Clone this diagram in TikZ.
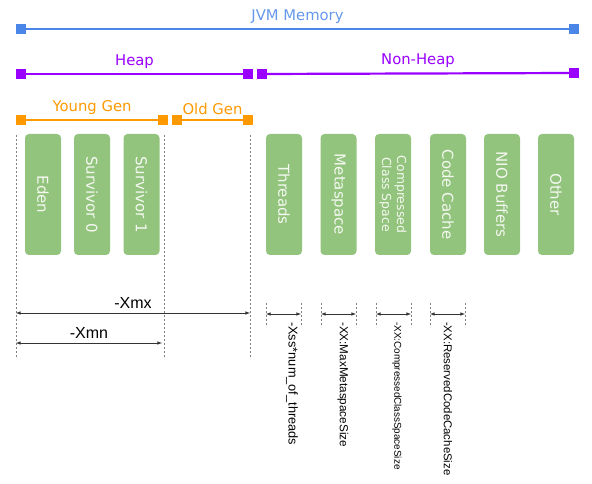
\documentclass[tikz,border=0pt]{standalone}
\usepackage{fontspec}
\setmainfont{DejaVu Sans}
\newfontfamily\optfont{Liberation Sans}
\usetikzlibrary{arrows}
\definecolor{jvmblue}{HTML}{4A86E8}
\definecolor{heappurple}{HTML}{9900FF}
\definecolor{genorange}{HTML}{FF9900}
\definecolor{boxgreen}{HTML}{93C47D}
\definecolor{boxtext}{HTML}{F4F8F1}
\newcommand{\fsz}[1]{\fontsize{#1}{1.2\dimexpr #1\relax}\selectfont}

\begin{document}
\begin{tikzpicture}[>=latex]
      \tikzstyle{every node}=[font=\fsz{14.8bp}]
      \tikzstyle{endsq}=[rectangle,inner sep=0pt,minimum size=10bp]
      \tikzstyle{span}=[line width=2.2bp]
      \tikzstyle{region}=[rectangle,rounded corners=4bp,fill=boxgreen,text=boxtext,rotate=-90,minimum width=121bp,minimum height=36bp,inner sep=0pt,align=center,font=\fsz{15bp}]
      \tikzstyle{guide}=[draw=gray,line width=0.6bp,dash pattern=on 2bp off 2bp]
      \tikzstyle{dim}=[<->,line width=0.6bp,black!80]
      \tikzstyle{optlabel}=[rotate=-90,anchor=west,inner sep=0pt,font=\optfont\fsz{12bp}]
      \useasboundingbox (0bp,0bp) rectangle (592bp,484bp);
      %%
  \node (s_jvm_l) at (21bp,455bp) [endsq,fill=jvmblue] {};
  \node (s_jvm_r) at (574bp,455bp) [endsq,fill=jvmblue] {};
  \node (s_heap_l) at (21bp,410bp) [endsq,fill=heappurple] {};
  \node (s_heap_r) at (248bp,410bp) [endsq,fill=heappurple] {};
  \node (s_nonheap_l) at (262bp,410bp) [endsq,fill=heappurple] {};
  \node (s_nonheap_r) at (574bp,411bp) [endsq,fill=heappurple] {};
  \node (s_young_l) at (21bp,364bp) [endsq,fill=genorange] {};
  \node (s_young_r) at (163bp,364bp) [endsq,fill=genorange] {};
  \node (s_old_l) at (177bp,364bp) [endsq,fill=genorange] {};
  \node (s_old_r) at (248bp,364bp) [endsq,fill=genorange] {};
  \draw [span,jvmblue] (s_jvm_l) -- (s_jvm_r) node [midway,above=1bp,text=jvmblue!85!white] {JVM Memory};
  \draw [span,heappurple] (s_heap_l) -- (s_heap_r) node [midway,above=1bp] {Heap};
  \draw [span,heappurple] (s_nonheap_l) -- (s_nonheap_r) node [midway,above=1bp] {Non-Heap};
  \draw [span,genorange] (s_young_l) -- (s_young_r) node [midway,above=1bp] {Young Gen};
  \draw [span,genorange] (s_old_l) -- (s_old_r) node [midway,above=1bp] {Old Gen};
%
  \node (b_eden) at (43bp,289.5bp) [region] {Eden};
  \node (b_surv0) at (92bp,289.5bp) [region] {Survivor 0};
  \node (b_surv1) at (141.5bp,289.5bp) [region] {Survivor 1};
  \node (b_threads) at (284bp,289.5bp) [region] {Threads};
  \node (b_meta) at (338.5bp,289.5bp) [region] {Metaspace};
  \node (b_ccs) at (393bp,289.5bp) [region,font=\fsz{12.4bp}] {Compressed\\Class Space};
  \node (b_code) at (448bp,289.5bp) [region] {Code Cache};
  \node (b_nio) at (502bp,289.5bp) [region] {NIO Buffers};
  \node (b_other) at (556bp,289.5bp) [region] {Other};
%
  \coordinate (g_heap_t) at (16bp,349bp);
  \coordinate (g_heap_b) at (16bp,126bp);
  \coordinate (g_young_t) at (164bp,349bp);
  \coordinate (g_young_b) at (164bp,126bp);
  \coordinate (g_old_t) at (250bp,349bp);
  \coordinate (g_old_b) at (250bp,126bp);
  \draw [guide] (g_heap_t) -- (g_heap_b);
  \draw [guide] (g_young_t) -- (g_young_b);
  \draw [guide] (g_old_t) -- (g_old_b);
  \coordinate (d_xmx_l) at (16bp,171bp);
  \coordinate (d_xmx_r) at (250bp,171bp);
  \coordinate (d_xmn_l) at (16bp,141bp);
  \coordinate (d_xmn_r) at (162bp,141bp);
  \draw [dim] (d_xmx_l) -- (d_xmx_r) node [midway,above=1bp,black,font=\optfont\fsz{16bp}] {-Xmx};
  \draw [dim] (d_xmn_l) -- (d_xmn_r) node [midway,above=1bp,black,font=\optfont\fsz{16bp}] {-Xmn};
%
  \foreach \nm/\xl/\xr in {xss/266/301,meta/321/356,ccs/376/411,code/430/465} {
    \coordinate (t_\nm_lt) at (\xl bp,181bp);
    \coordinate (t_\nm_lb) at (\xl bp,157bp);
    \coordinate (t_\nm_rt) at (\xr bp,181bp);
    \coordinate (t_\nm_rb) at (\xr bp,157bp);
    \draw [guide] (t_\nm_lt) -- (t_\nm_lb);
    \draw [guide] (t_\nm_rt) -- (t_\nm_rb);
    \draw [dim] (t_\nm_lt |- 0,170bp) -- (t_\nm_rt |- 0,170bp);
  }
  \node (o_xss) at (292bp,162bp) [optlabel,font=\optfont\fsz{12.8bp}] {-Xss*num\_of\_threads};
  \node (o_meta) at (343bp,162bp) [optlabel,font=\optfont\fsz{11.7bp}] {-XX:MaxMetaspaceSize};
  \node (o_ccs) at (397bp,162bp) [optlabel,font=\optfont\fsz{9.9bp}] {-XX:CompressedClassSpaceSize};
  \node (o_code) at (448bp,162bp) [optlabel,font=\optfont\fsz{11.4bp}] {-XX:ReservedCodeCacheSize};
%
    \end{tikzpicture}
\end{document}
